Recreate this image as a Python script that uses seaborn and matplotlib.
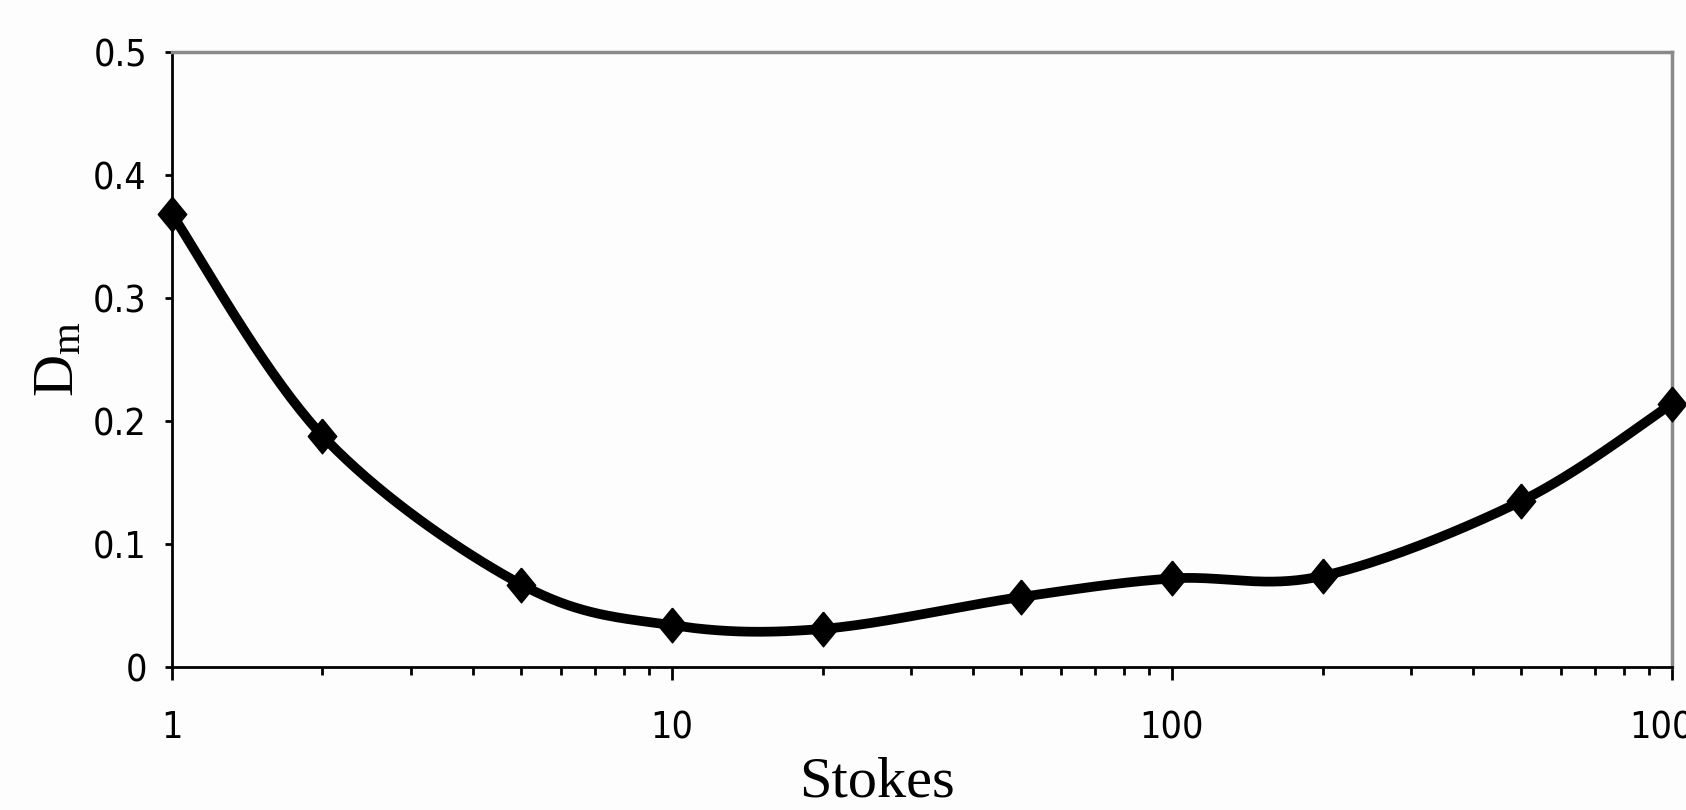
import numpy as np
import pandas as pd
import matplotlib
matplotlib.use("Agg")
import matplotlib.pyplot as plt
from matplotlib import font_manager
from matplotlib.ticker import FixedLocator, LogLocator, FuncFormatter, NullFormatter
import seaborn as sns

# ── Data ───────────────────────────────────────────────────────────────────────
stokes = [1, 2, 5, 10, 20, 50, 100, 200, 500, 1000]
dm = [0.368, 0.188, 0.067, 0.034, 0.031, 0.057, 0.072, 0.074, 0.135, 0.214]

x_ticks = [1, 10, 100, 1000]
y_ticks = [0, 0.1, 0.2, 0.3, 0.4, 0.5]


def smooth_curve(x, y, n=40):
    """Excel-style smoothed line: Bezier segments with Catmull-Rom tangents (log-x)."""
    u = np.log10(np.asarray(x, float))
    v = np.asarray(y, float)
    P = np.column_stack([u, v])
    Pe = np.vstack([P[0], P, P[-1]])
    t = np.linspace(0, 1, n)[:, None]
    segs = []
    for i in range(len(P) - 1):
        p0, p3 = P[i], P[i + 1]
        p1 = p0 + (Pe[i + 2] - Pe[i]) / 6
        p2 = p3 - (Pe[i + 3] - Pe[i + 1]) / 6
        seg = ((1 - t) ** 3 * p0 + 3 * (1 - t) ** 2 * t * p1
               + 3 * (1 - t) * t ** 2 * p2 + t ** 3 * p3)
        segs.append(seg if i == 0 else seg[1:])
    c = np.vstack(segs)
    return 10 ** c[:, 0], c[:, 1]


def narrow_font():
    """Find a condensed sans font file for the tick labels, if any is installed."""
    files = [f.fname for f in font_manager.fontManager.ttflist]
    for key in ["LiberationSansNarrow-Regular", "DejaVuSansCondensed.ttf"]:
        for fn in files:
            if key in fn:
                return font_manager.FontProperties(fname=fn, size=27)
    return font_manager.FontProperties(family="Liberation Sans", size=27)


sns.set_theme(style="white")
plt.rcParams["font.family"] = ["Liberation Sans", "DejaVu Sans"]
plt.rcParams["mathtext.fontset"] = "custom"
plt.rcParams["mathtext.rm"] = "Liberation Serif"
plt.rcParams["mathtext.it"] = "Liberation Serif:italic"

fig = plt.figure(figsize=(16.86, 8.10), dpi=100, facecolor="#fdfdfd")
ax = fig.add_axes([0.102, 0.1765, 0.8897, 0.7593])
ax.set_facecolor("#fdfdfd")

sx, sy = smooth_curve(stokes, dm)
curve = pd.DataFrame({"Stokes": sx, "Dm": sy})
pts = pd.DataFrame({"Stokes": stokes, "Dm": dm})

sns.lineplot(data=curve, x="Stokes", y="Dm", ax=ax, color="black",
             linewidth=7, sort=False, estimator=None, clip_on=False)
diamond = [(0, 1), (0.82, 0), (0, -1), (-0.82, 0), (0, 1)]
ax.plot(pts["Stokes"], pts["Dm"], linestyle="none", marker=diamond,
        markersize=25, color="black", markeredgewidth=1, clip_on=False, zorder=5)

ax.set_xscale("log")
ax.set_xlim(1, 1000)
ax.set_ylim(0, 0.5)
ax.xaxis.set_major_locator(FixedLocator(x_ticks))
ax.xaxis.set_minor_locator(LogLocator(base=10, subs=np.arange(2, 10)))
ax.xaxis.set_major_formatter(FuncFormatter(lambda v, p: f"{v:g}"))
ax.xaxis.set_minor_formatter(NullFormatter())
ax.yaxis.set_major_locator(FixedLocator(y_ticks))
ax.yaxis.set_major_formatter(FuncFormatter(lambda v, p: f"{v:g}"))

ax.tick_params(axis="x", which="major", direction="out", length=9, width=2,
               color="black", pad=22, labelsize=27, bottom=True)
ax.tick_params(axis="x", which="minor", direction="out", length=6, width=2,
               color="black", bottom=True)
ax.tick_params(axis="y", which="major", direction="out", length=5, width=2,
               color="black", pad=13, labelsize=27, left=True)

fp = narrow_font()
for lab in ax.get_xticklabels() + ax.get_yticklabels():
    lab.set_fontproperties(fp)
    lab.set_color("black")

for side in ["left", "bottom"]:
    ax.spines[side].set_color("black")
    ax.spines[side].set_linewidth(2)
for side in ["top", "right"]:
    ax.spines[side].set_color("#8a8a8a")
    ax.spines[side].set_linewidth(2.5)

ax.set_xlabel("Stokes", fontsize=42, family="Liberation Serif", color="black")
ax.set_ylabel(r"D$_{\mathrm{m}}$", fontsize=42, family="Liberation Serif", color="black")
ax.xaxis.set_label_coords(0.47, -0.145)
ax.yaxis.set_label_coords(-0.058, 0.5)

fig.savefig("out.png", dpi=100, facecolor=fig.get_facecolor())
